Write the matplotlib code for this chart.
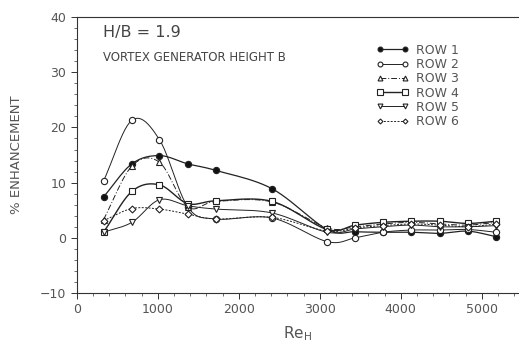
import numpy as np
import matplotlib
matplotlib.use("Agg")
import matplotlib.pyplot as plt
from matplotlib.lines import Line2D

# Reynolds numbers (Re_H) at the measured points
re_h = [330, 680, 1020, 1370, 1720, 2410, 3090, 3440, 3780, 4130, 4480, 4830, 5180]

# % enhancement for each row
row1 = [7.4, 13.4, 14.9, 13.4, 12.2, 8.9, 1.5, 1.1, 1.0, 1.0, 0.8, 1.2, 0.2]
row2 = [10.3, 21.3, 17.8, 5.6, 3.4, 3.6, -0.7, 0.0, 1.0, 1.4, 1.4, 1.5, 1.0]
row3 = [3.3, 13.0, 13.7, 5.6, 6.6, 6.5, 1.8, 2.0, 2.5, 2.8, 2.5, 2.3, 2.8]
row4 = [1.0, 8.4, 9.6, 6.2, 6.7, 6.6, 1.5, 2.3, 2.8, 3.0, 3.0, 2.6, 3.0]
row5 = [1.0, 2.8, 6.9, 5.8, 5.2, 4.5, 1.0, 1.6, 2.0, 2.3, 2.0, 2.0, 2.2]
row6 = [3.1, 5.3, 5.2, 4.3, 3.4, 3.7, 1.2, 1.8, 2.2, 2.5, 2.3, 2.0, 2.5]

labels = ["ROW 1", "ROW 2", "ROW 3", "ROW 4", "ROW 5", "ROW 6"]


def smooth(x, y, n=12):
    # catmull-rom through the measured points, just for the drawn curve
    x = np.asarray(x, float)
    y = np.asarray(y, float)
    px = np.concatenate([[2 * x[0] - x[1]], x, [2 * x[-1] - x[-2]]])
    py = np.concatenate([[2 * y[0] - y[1]], y, [2 * y[-1] - y[-2]]])
    xs, ys = [], []
    t = np.linspace(0, 1, n, endpoint=False)
    for i in range(1, len(px) - 2):
        for p, out in ((px, xs), (py, ys)):
            p0, p1, p2, p3 = p[i - 1], p[i], p[i + 1], p[i + 2]
            out.append(0.5 * (2 * p1 + (-p0 + p2) * t
                              + (2 * p0 - 5 * p1 + 4 * p2 - p3) * t ** 2
                              + (-p0 + 3 * p1 - 3 * p2 + p3) * t ** 3))
    xs.append([x[-1]])
    ys.append([y[-1]])
    return np.concatenate(xs), np.concatenate(ys)


plt.rcParams['font.family'] = ['DejaVu Sans']
grey = "#555555"

fig = plt.figure(figsize=(5.19, 3.43), dpi=100)
ax = fig.add_axes([0.148, 0.146, 0.852, 0.804])

series = [row1, row2, row3, row4, row5, row6]
markers = ["o", "o", "^", "s", "v", "D"]
fills = ["#111111", "white", "white", "white", "white", "white"]
msizes = [4.5, 4.5, 4.5, 5, 4.5, 3.5]
styles = ["-", "-", (0, (6, 2, 1, 2)), "-", "-", (0, (2, 1.5))]
lws = [0.9, 0.7, 0.7, 1.0, 0.7, 0.7]

for vals, m, fc, ms, ls, lw in zip(series, markers, fills, msizes, styles, lws):
    sx, sy = smooth(re_h, vals)
    ax.plot(sx, sy, color="#222222", lw=lw, ls=ls)
    ax.plot(re_h, vals, ls="none", marker=m, ms=ms, mfc=fc, mec="#222222", mew=0.8)

ax.set_xlim(0, 5460)
ax.set_ylim(-10, 40)
ax.set_xticks([0, 1000, 2000, 3000, 4000, 5000])
ax.set_yticks([-10, 0, 10, 20, 30, 40])
ax.set_yticks(np.arange(-10, 41, 2), minor=True)
ax.set_xticks(np.arange(0, 5461, 200), minor=True)
ax.spines['right'].set_visible(False)
for s in ['left', 'top', 'bottom']:
    ax.spines[s].set_linewidth(0.8)
    ax.spines[s].set_color("#333333")
ax.tick_params(which="major", length=4, width=0.7, colors="#333333",
               labelsize=9, labelcolor=grey)
ax.tick_params(which="minor", length=2, width=0.5, colors="#333333")

ax.set_ylabel("% ENHANCEMENT", fontsize=9.5, color=grey, labelpad=12)
ax.set_xlabel("Re$_\\mathregular{H}$", fontsize=11, color=grey, labelpad=6)

ax.text(0.06, 0.945, "H/B = 1.9", transform=ax.transAxes, fontsize=11.5,
        color="#444444", va="center")
ax.text(0.06, 0.855, "VORTEX GENERATOR HEIGHT B", transform=ax.transAxes,
        fontsize=8.5, color="#444444", va="center")

handles = []
for m, fc, ms, ls, lw in zip(markers, fills, msizes, styles, lws):
    handles.append(Line2D([0], [0], color="#222222", lw=lw, ls=ls, marker=m,
                          ms=ms - 1, mfc=fc, mec="#222222", mew=0.8))
leg = ax.legend(handles, labels, loc="upper right", bbox_to_anchor=(0.885, 0.935),
                frameon=False, fontsize=9, numpoints=2, handlelength=2.6,
                labelspacing=0.1, handletextpad=0.6, borderpad=0.2)
for t in leg.get_texts():
    t.set_color(grey)

fig.savefig("out.png", dpi=100)
